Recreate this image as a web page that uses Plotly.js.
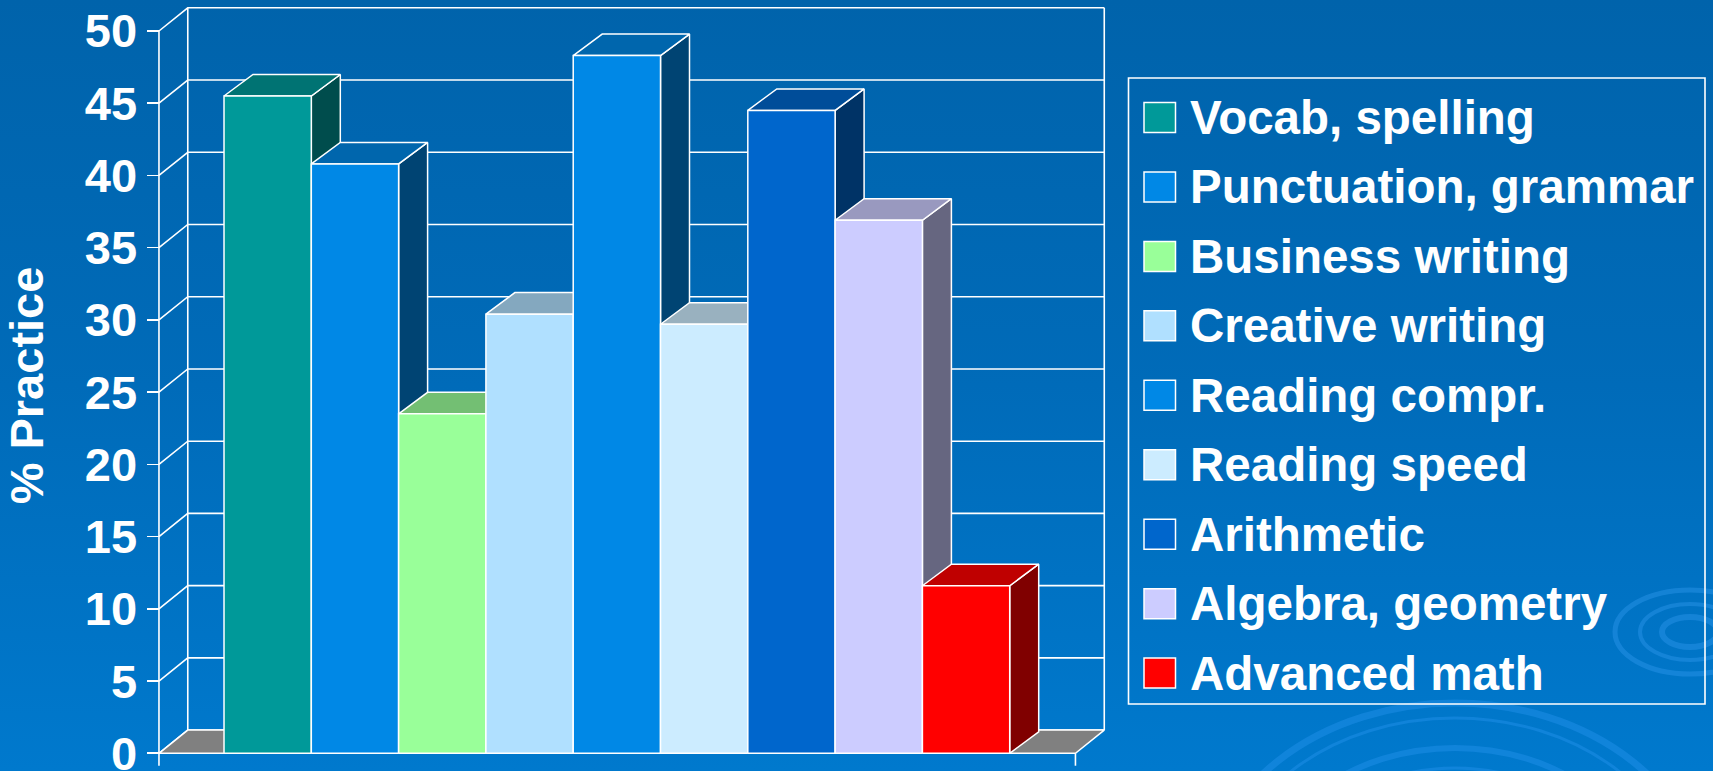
<!DOCTYPE html>
<html>
<head>
<meta charset="utf-8">
<script src="https://cdn.plot.ly/plotly-3.0.1.min.js"></script>
<style>
  html, body { margin: 0; padding: 0; width: 1713px; height: 771px; overflow: hidden;
    background: linear-gradient(to bottom, #0063AB 0%, #006BB9 50%, #0079CD 100%); }
  #chart { width: 1713px; height: 771px; }
</style>
</head>
<body>
<div id="chart"></div>
<script>
// ---------- data ----------
const categories = ['Vocab, spelling', 'Punctuation, grammar', 'Business writing', 'Creative writing',
                    'Reading compr.', 'Reading speed', 'Arithmetic', 'Algebra, geometry', 'Advanced math'];
const values = [45.5, 40.8, 23.5, 30.4, 48.3, 29.7, 44.5, 36.9, 11.6];
const frontColors = ['#009999', '#0088E6', '#99FF99', '#B0E0FF', '#0088E6', '#CCECFF', '#0066CC', '#CCCCFF', '#FF0000'];
const yTickVals = [0, 5, 10, 15, 20, 25, 30, 35, 40, 45, 50];
const yTickText = ['0', '5', '10', '15', '20', '25', '30', '35', '40', '45', '50'];
const yTitle = '% Practice';

// ---------- geometry (layout only) ----------
const W = 1713, H = 771;
const X_RANGE = [-3.066, 16.556];
const Y_RANGE = [-1.225, 52.146];
const BAR_DX = 0.332, BAR_DY = 1.49;     // bar depth offset
const WALL_DX = 0.33, WALL_DY = 1.606;   // floor / wall depth offset
const FLOOR_L = -1.245, FLOOR_R = 9.253;
const X_TICK_LEN = 0.86;
const YMAX = yTickVals[yTickVals.length - 1];

function shade(hex, f) {
  const n = parseInt(hex.slice(1), 16);
  const r = Math.round(((n >> 16) & 255) * f), g = Math.round(((n >> 8) & 255) * f), b = Math.round((n & 255) * f);
  return 'rgb(' + r + ',' + g + ',' + b + ')';
}
function poly(xs, ys, fill, name) {
  return { type: 'scatter', mode: 'lines', x: xs.concat([xs[0]]), y: ys.concat([ys[0]]),
           fill: 'toself', fillcolor: fill, line: { color: '#FFFFFF', width: 1.5 },
           hoverinfo: 'skip', showlegend: false, name: name || '' };
}
function lines(xs, ys, w) {
  return { type: 'scatter', mode: 'lines', x: xs, y: ys, line: { color: '#FFFFFF', width: w || 1.5 },
           hoverinfo: 'skip', showlegend: false, connectgaps: false };
}

const traces = [];

// gridlines: left-wall diagonals + back-wall horizontals
const gx = [], gy = [];
yTickVals.forEach(v => {
  gx.push(FLOOR_L, FLOOR_L + WALL_DX, FLOOR_R + WALL_DX, null);
  gy.push(v, v + WALL_DY, v + WALL_DY, null);
});
// back-left, back-right verticals
gx.push(FLOOR_L + WALL_DX, FLOOR_L + WALL_DX, null, FLOOR_R + WALL_DX, FLOOR_R + WALL_DX, null);
gy.push(WALL_DY, YMAX + WALL_DY, null, WALL_DY, YMAX + WALL_DY, null);
// front-left vertical axis line (with tick below floor) and right tick
gx.push(FLOOR_L, FLOOR_L, null, FLOOR_R, FLOOR_R, null);
gy.push(YMAX, -X_TICK_LEN, null, 0, -X_TICK_LEN, null);
traces.push(lines(gx, gy, 1.6));

// floor
traces.push(poly([FLOOR_L, FLOOR_R, FLOOR_R + WALL_DX, FLOOR_L + WALL_DX], [0, 0, WALL_DY, WALL_DY], '#808080', 'floor'));

// bars (painter's order: left to right; side, top, front)
values.forEach((v, i) => {
  const xl = i - 0.5, xr = i + 0.5, c = frontColors[i];
  traces.push(poly([xr, xr + BAR_DX, xr + BAR_DX, xr], [0, BAR_DY, v + BAR_DY, v], shade(c, 0.5), categories[i] + ' side'));
  traces.push(poly([xl, xr, xr + BAR_DX, xl + BAR_DX], [v, v, v + BAR_DY, v + BAR_DY], shade(c, 0.75), categories[i] + ' top'));
  traces.push(poly([xl, xr, xr, xl], [0, 0, v, v], c, categories[i]));
});

// ---------- legend (manual, large swatches) ----------
const fx = px => px / W, fy = py => 1 - py / H;
const shapes = [];
const annotations = [];

// decorative ripples
[[250, 197, 7], [232, 182, 3], [195, 152, 6], [170, 132, 3]].forEach(r => {
  shapes.push({ type: 'circle', xref: 'paper', yref: 'paper', layer: 'below',
    x0: fx(1455 - r[0]), x1: fx(1455 + r[0]), y0: fy(900 + r[1]), y1: fy(900 - r[1]),
    line: { color: 'rgba(40,150,240,0.4)', width: r[2] } });
});
[[75, 42, 5], [50, 28, 4], [28, 15, 6]].forEach(r => {
  shapes.push({ type: 'circle', xref: 'paper', yref: 'paper', layer: 'below',
    x0: fx(1690 - r[0]), x1: fx(1690 + r[0]), y0: fy(632 + r[1]), y1: fy(632 - r[1]),
    line: { color: 'rgba(50,155,240,0.4)', width: r[2] } });
});

shapes.push({ type: 'rect', xref: 'paper', yref: 'paper', x0: fx(1128.5), x1: fx(1705), y0: fy(704), y1: fy(78),
  line: { color: '#FFFFFF', width: 1.6 }, fillcolor: 'rgba(0,0,0,0)' });
categories.forEach((name, i) => {
  const cy = 117.5 + i * 69.45;
  shapes.push({ type: 'rect', xref: 'paper', yref: 'paper', x0: fx(1144), x1: fx(1175.5), y0: fy(cy + 15), y1: fy(cy - 15),
    line: { color: '#FFFFFF', width: 1.5 }, fillcolor: frontColors[i] });
  annotations.push({ xref: 'paper', yref: 'paper', x: fx(1188), y: fy(cy), xanchor: 'left', yanchor: 'middle',
    text: name, showarrow: false,
    font: { family: 'Liberation Sans, Arial, sans-serif', size: 47.5, weight: 'bold', color: '#FFFFFF' } });
});

const layout = {
  width: W, height: H,
  margin: { l: 0, r: 0, t: 0, b: 0, pad: 0 },
  paper_bgcolor: 'rgba(0,0,0,0)', plot_bgcolor: 'rgba(0,0,0,0)',
  showlegend: false,
  font: { family: 'Liberation Sans, Arial, sans-serif', color: '#FFFFFF' },
  xaxis: { range: X_RANGE, visible: false, fixedrange: true },
  yaxis: {
    range: Y_RANGE, anchor: 'free', position: fx(159), side: 'left',
    tickmode: 'array', tickvals: yTickVals, ticktext: yTickText,
    ticks: 'outside', ticklen: 12.5, tickwidth: 1.6, tickcolor: '#FFFFFF',
    ticklabelstandoff: 0, ticklabeloverflow: 'allow',
    showgrid: false, zeroline: false, showline: false, fixedrange: true,
    tickfont: { family: 'Liberation Sans, Arial, sans-serif', size: 47, weight: 'bold', color: '#FFFFFF' },
    title: { text: yTitle, standoff: 30,
      font: { family: 'Liberation Sans, Arial, sans-serif', size: 47, weight: 'bold', color: '#FFFFFF' } }
  },
  shapes: shapes,
  annotations: annotations
};

Plotly.newPlot('chart', traces, layout, { staticPlot: true, displayModeBar: false });
</script>
</body>
</html>
